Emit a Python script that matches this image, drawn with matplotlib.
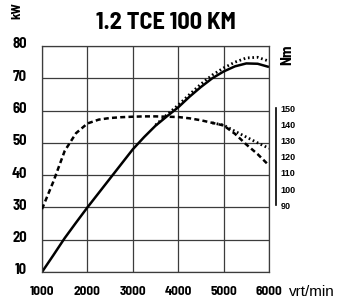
import matplotlib
matplotlib.use("Agg")
import matplotlib.pyplot as plt
from matplotlib import font_manager
from matplotlib.transforms import ScaledTranslation

# condensed bold face, like the original artwork
names = {f.name for f in font_manager.fontManager.ttflist}
NARROW = "Barlow Semi Condensed" if "Barlow Semi Condensed" in names else "Liberation Sans"
WIDE = "Liberation Sans"

# --- data ---
rpm = [1000, 1250, 1500, 1750, 2000, 2250, 2500, 2750, 3000, 3250, 3500,
       3750, 4000, 4250, 4500, 4750, 5000, 5250, 5500, 5750, 6000]
power_kw = [10, 15.2, 20.5, 25.3, 30, 34.5, 39, 43.5, 48, 51.8, 55.3,
            58.2, 61, 64.3, 67.3, 70, 72.1, 73.7, 74.6, 74.5, 73.5]
torque_nm = [87.6, 104.6, 123.6, 134.6, 140.6, 143, 144, 144.5, 144.8, 145, 145,
             144.8, 144.6, 143.8, 142.6, 141, 139.4, 134.2, 127.6, 121.6, 114.6]

rpm_alt = [3500, 3750, 4000, 4250, 4500, 4750, 5000, 5250, 5500, 5750, 6000]
power_alt_kw = [55.5, 58.7, 61.7, 65.0, 68.2, 71.0, 73.2, 75.0, 76.3, 76.5, 75.3]

rpm_alt_t = [4750, 5000, 5250, 5500, 5750, 6000]
torque_alt_nm = [141, 139.6, 135.8, 132.2, 128.6, 125.2]

rpm_ticks = [1000, 2000, 3000, 4000, 5000, 6000]
kw_ticks = [10, 20, 30, 40, 50, 60, 70, 80]
nm_ticks = [90, 100, 110, 120, 130, 140, 150]

title = "1.2 TCE 100 KM"

fig = plt.figure(figsize=(3.37, 3.03), dpi=100)
ax = fig.add_axes([42 / 337, 31 / 303, 227 / 337, 226 / 303])

ax.set_xlim(1000, 6000)
ax.set_ylim(10, 80)
ax.set_xticks(rpm_ticks)
ax.set_yticks(kw_ticks)
ax.grid(True, color="#3c3c3c", lw=0.9)
ax.set_axisbelow(True)
for s in ax.spines.values():
    s.set_color("#3c3c3c")
    s.set_linewidth(0.9)
ax.tick_params(length=0)
ax.tick_params(axis="y", pad=11)
ax.tick_params(axis="x", pad=10)
for lab in ax.get_yticklabels():
    lab.set_fontfamily(NARROW)
    lab.set_fontweight("bold")
    lab.set_fontsize(10.5)
    lab.set_transform(lab.get_transform() + ScaledTranslation(0, 3 / 100, fig.dpi_scale_trans))
for lab in ax.get_xticklabels():
    lab.set_fontfamily(NARROW)
    lab.set_fontweight("bold")
    lab.set_fontsize(9.5)

# power curves
ax.plot(rpm, power_kw, color="black", lw=1.8, solid_capstyle="butt")
ax.plot(rpm_alt, power_alt_kw, color="black", lw=2.0, linestyle=(0, (0.6, 1.0)))

# torque on a twin axis
ax2 = ax.twinx()
ax2.set_ylim(48.6, 188.6)
ax2.plot(rpm, torque_nm, color="black", lw=1.8, linestyle=(0, (2.0, 1.3)))
ax2.plot(rpm_alt_t, torque_alt_nm, color="black", lw=2.0, linestyle=(0, (0.6, 1.0)))
for side in ["top", "left", "bottom"]:
    ax2.spines[side].set_visible(False)
ax2.spines["right"].set_position(("outward", 5))
ax2.spines["right"].set_bounds(90, 150)
ax2.spines["right"].set_linewidth(1.2)
ax2.set_yticks(nm_ticks)
ax2.tick_params(axis="y", length=0, pad=3.5)
for lab in ax2.get_yticklabels():
    lab.set_fontfamily(WIDE)
    lab.set_fontweight("bold")
    lab.set_fontsize(6.5)

# texts
fig.text(166 / 337, 1 - 23 / 303, title, ha="center", va="center",
         fontsize=17.5, fontweight="bold", family=NARROW)
fig.text(17 / 337, 1 - 11 / 303, "kW", ha="center", va="center", rotation=90,
         fontsize=9.5, fontweight="bold", family=NARROW)
fig.text(287 / 337, 1 - 55 / 303, "Nm", ha="center", va="center", rotation=90,
         fontsize=11, fontweight="bold", family=NARROW)
fig.text(289 / 337, 1 - 291.5 / 303, "vrt/min", ha="left", va="center",
         fontsize=11, family=WIDE)

fig.savefig("out.png", dpi=100)
